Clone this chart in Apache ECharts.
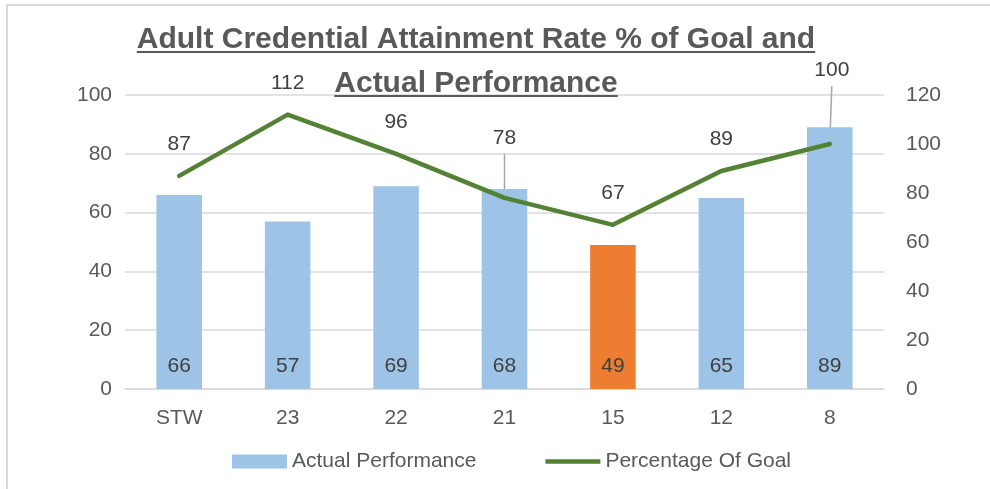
<!DOCTYPE html>
<html><head><meta charset="utf-8">
<script src="https://cdn.jsdelivr.net/npm/echarts@6/dist/echarts.min.js"></script>
<style>html,body{margin:0;padding:0;background:#fff}#c{width:990px;height:489px}</style>
</head><body><div id="c"></div>
<script>
// ---- data ----
const titleLines = ['Adult Credential Attainment Rate % of Goal and', 'Actual Performance'];
const categories = ['STW', '23', '22', '21', '15', '12', '8'];
const actualPerformance = [66, 57, 69, 68, 49, 65, 89];
const percentageOfGoal = [87, 112, 96, 78, 67, 89, 100];
const leftAxisTicks = [0, 20, 40, 60, 80, 100];
const rightAxisTicks = [0, 20, 40, 60, 80, 100, 120];
const seriesNames = ['Actual Performance', 'Percentage Of Goal'];

// ---- styles ----
const FONT = "'Liberation Sans', Arial, sans-serif";
const BLUE = '#9DC3E6', ORANGE = '#ED7D31', GREEN = '#548235';
const GRID = '#D9D9D9', TXT = '#595959', LBL = '#404040', LEADER = '#A6A6A6';
const highlightCategory = '15';
const labelDistance = {default: 20, '21': 48, '8': 62};
const labelLeader = {'21': true, '8': true};
const labelShift = {'8': [2, 0]};
const titleCx = 476;

function measure(text, font) {
  const c = document.createElement('canvas').getContext('2d');
  c.font = font;
  return c.measureText(text).width;
}
const tFont = "bold 30px 'Liberation Sans', Arial, sans-serif";
const w1 = measure(titleLines[0], tFont), w2 = measure(titleLines[1], tFont);

const barData = actualPerformance.map((v, i) =>
  categories[i] === highlightCategory ? {value: v, itemStyle: {color: ORANGE}} : v);

const lineData = percentageOfGoal.map((v, i) => {
  const c = categories[i];
  const item = {value: v};
  if (labelDistance[c] != null) {
    item.label = {distance: labelDistance[c]};
    if (labelShift[c]) item.label.offset = labelShift[c];
  }
  return item;
});

const leaderData = percentageOfGoal.map((v, i) => [i, v]);

const chart = echarts.init(document.getElementById('c'), null, {renderer: 'canvas'});
chart.setOption({
  animation: false,
  backgroundColor: '#fff',
  title: {
    text: titleLines.join('\n'),
    left: titleCx, textAlign: 'center', top: 18, padding: 0,
    textStyle: {fontFamily: FONT, fontSize: 30, fontWeight: 'bold', color: TXT, lineHeight: 44}
  },
  graphic: [
    {type: 'line', z: 100, shape: {x1: titleCx - w1 / 2, y1: 52, x2: titleCx + w1 / 2, y2: 52}, style: {stroke: TXT, lineWidth: 2}},
    {type: 'line', z: 100, shape: {x1: titleCx - w2 / 2, y1: 96, x2: titleCx + w2 / 2, y2: 96}, style: {stroke: TXT, lineWidth: 2}},
    {type: 'line', z: 100, shape: {x1: 6, y1: 5, x2: 990, y2: 5}, style: {stroke: GRID, lineWidth: 2}},
    {type: 'line', z: 100, shape: {x1: 7, y1: 5, x2: 7, y2: 489}, style: {stroke: GRID, lineWidth: 2}}
  ],
  legend: {
    left: 232, top: 451, padding: 0,
    itemWidth: 55, itemHeight: 14, itemGap: 69,
    textStyle: {fontFamily: FONT, fontSize: 21, color: TXT},
    data: [
      {name: seriesNames[0], icon: 'rect'},
      {name: seriesNames[1], icon: 'path://M0,0H100V8H0Z'}
    ]
  },
  grid: {left: 125, right: 106, top: 95, bottom: 100},
  xAxis: {
    type: 'category', data: categories,
    axisLine: {lineStyle: {color: GRID, width: 1.5}},
    axisTick: {show: false},
    axisLabel: {fontFamily: FONT, fontSize: 21, color: TXT, margin: 19}
  },
  yAxis: [
    {
      type: 'value', min: leftAxisTicks[0], max: leftAxisTicks[leftAxisTicks.length - 1],
      interval: leftAxisTicks[1] - leftAxisTicks[0],
      axisLine: {show: false}, axisTick: {show: false},
      splitLine: {lineStyle: {color: GRID, width: 1.5}},
      axisLabel: {fontFamily: FONT, fontSize: 21, color: TXT, margin: 13}
    },
    {
      type: 'value', min: rightAxisTicks[0], max: rightAxisTicks[rightAxisTicks.length - 1],
      interval: rightAxisTicks[1] - rightAxisTicks[0],
      axisLine: {show: false}, axisTick: {show: false}, splitLine: {show: false},
      axisLabel: {fontFamily: FONT, fontSize: 21, color: TXT, margin: 22}
    }
  ],
  series: [
    {
      name: seriesNames[0], type: 'bar', yAxisIndex: 0, data: barData,
      barWidth: '42%', itemStyle: {color: BLUE},
      label: {show: true, position: 'insideBottom', distance: 12, fontFamily: FONT, fontSize: 21, color: LBL}
    },
    {
      name: 'leaders', type: 'custom', yAxisIndex: 1, data: leaderData,
      encode: {x: 0, y: 1}, silent: true, z: 2,
      renderItem: function (params, api) {
        const c = categories[params.dataIndex];
        if (!labelLeader[c]) return null;
        const p = api.coord([api.value(0), api.value(1)]);
        const dx = labelShift[c] ? labelShift[c][0] : 0;
        return {
          type: 'line',
          shape: {x1: p[0], y1: p[1] - 2, x2: p[0] + dx, y2: p[1] - (labelDistance[c] - 4)},
          style: {stroke: LEADER, lineWidth: 1.5}
        };
      }
    },
    {
      name: seriesNames[1], type: 'line', yAxisIndex: 1, data: lineData,
      symbol: 'circle', symbolSize: 2, showSymbol: true,
      itemStyle: {color: GREEN},
      lineStyle: {color: GREEN, width: 4.5, cap: 'round', join: 'round'},
      label: {show: true, position: 'top', distance: labelDistance.default, fontFamily: FONT, fontSize: 21, color: LBL},
      z: 3
    }
  ]
});
</script></body></html>
